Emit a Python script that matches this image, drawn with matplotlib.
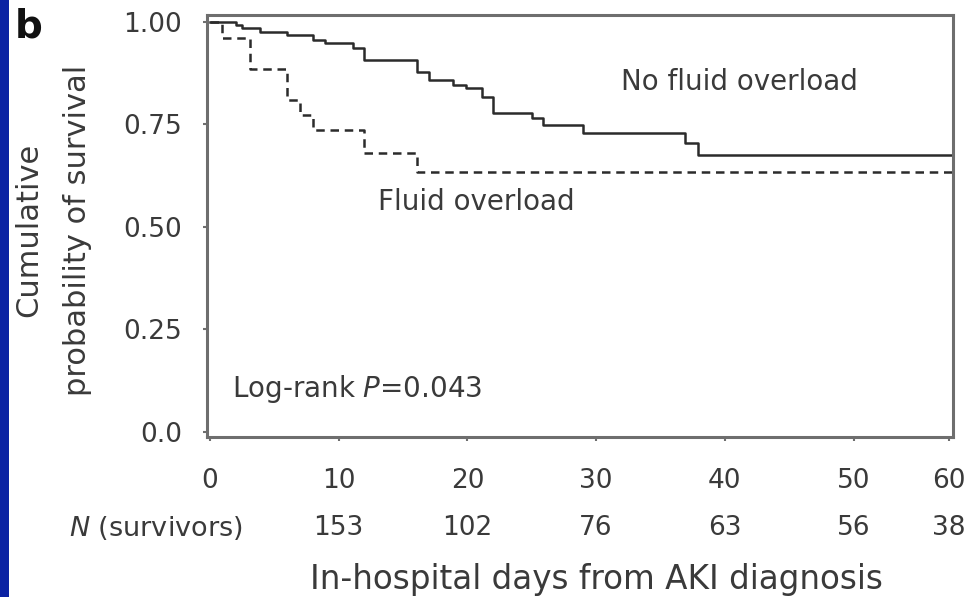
import numpy as np
import matplotlib
matplotlib.use("Agg")
from matplotlib import pyplot as plt
from matplotlib.patches import Rectangle
import matplotlib.transforms as mtransforms

plt.rcParams['font.family'] = ['DejaVu Sans']
plt.rcParams['mathtext.fontset'] = 'custom'
plt.rcParams['mathtext.rm'] = 'DejaVu Sans'
plt.rcParams['mathtext.it'] = 'DejaVu Sans:italic'

# Kaplan-Meier step data (days from AKI diagnosis, cumulative survival)
no_fo_days = [0, 2.0, 2.5, 3.9, 6.0, 8.0, 8.9, 11.1, 12.0, 16.1, 17.0, 18.9, 19.9,
              21.1, 22.0, 25.0, 25.9, 29.0, 36.9, 37.9, 60]
no_fo_surv = [1.0, 0.993, 0.985, 0.976, 0.968, 0.956, 0.948, 0.936, 0.907, 0.879,
              0.859, 0.846, 0.838, 0.818, 0.777, 0.765, 0.749, 0.729, 0.704, 0.676, 0.676]

fo_days = [0, 0.9, 3.1, 6.0, 7.0, 8.0, 12.0, 16.1, 60]
fo_surv = [1.0, 0.962, 0.885, 0.81, 0.773, 0.737, 0.68, 0.633, 0.633]

# numbers at risk
risk_days = [10, 20, 30, 40, 50, 60]
at_risk = [153, 102, 76, 63, 56, 38]

x_ticklabels = ['0', '10', '20', '30', '40', '50', '60']
y_ticks = [0.0, 0.25, 0.5, 0.75, 1.0]
y_ticklabels = ['0.0', '0.25', '0.50', '0.75', '1.00']

text_col = '#3a3a3a'
line_col = '#2b2b2b'
spine_col = '#6e6e6e'
x_end = 57.73   # right edge of the axes
x_last = 57.42  # where the "60" column is drawn, just inside the right spine

fig = plt.figure(figsize=(9.73, 5.97), dpi=100)
fig.patch.set_facecolor('white')
ax = fig.add_axes([207/973, 1 - 437/597, 746/973, 422/597])

ax.step(no_fo_days, no_fo_surv, where='post', color=line_col, lw=1.8)
dash_line, = ax.step(fo_days, fo_surv, where='post', color=line_col, lw=1.8)
dash_line.set_dashes([3.4, 2.3])

ax.set_xlim(-0.23, x_end)
ax.set_ylim(-0.0122, 1.017)

x_pos = [0, 10, 20, 30, 40, 50, x_last]
ax.set_xticks(x_pos)
ax.set_xticklabels(x_ticklabels)
ax.set_yticks(y_ticks)
ax.set_yticklabels(y_ticklabels)
ax.tick_params(axis='both', direction='out', length=3, width=1.5, color=spine_col,
               labelsize=19, labelcolor=text_col)
ax.tick_params(axis='x', pad=19)
ax.tick_params(axis='y', pad=15)
for s in ax.spines.values():
    s.set_color(spine_col)
    s.set_linewidth(2.2)

# number-at-risk row
risk_x = [x_pos[x_ticklabels.index(str(d))] for d in risk_days]
row_tr = mtransforms.blended_transform_factory(ax.transData, fig.transFigure)
for d, n in zip(risk_x, at_risk):
    ax.text(d, 1 - 528/597, str(n), transform=row_tr, ha='center', va='center',
            fontsize=19, color=text_col, clip_on=False)
fig.text(156/973, 1 - 528/597, r'$N$ (survivors)', ha='center', va='center',
         fontsize=19.5, color=text_col)

fig.text(596/973, 1 - 579/597, 'In-hospital days from AKI diagnosis',
         ha='center', va='center', fontsize=23.5, color=text_col)
fig.text(29/973, 1 - 230/597, 'Cumulative', rotation=90,
         ha='center', va='center', fontsize=22, color=text_col)
fig.text(78/973, 1 - 230/597, 'probability of survival', rotation=90,
         ha='center', va='center', fontsize=22, color=text_col)

ax.text(31.9, 0.854, 'No fluid overload', ha='left', va='center', fontsize=20, color=text_col)
ax.text(13.05, 0.561, 'Fluid overload', ha='left', va='center', fontsize=20, color=text_col)
ax.text(1.7, 0.105, r'Log-rank $P$=0.043', ha='left', va='center', fontsize=20, color=text_col)

fig.text(29/973, 1 - 26/597, 'b', ha='center', va='center', fontsize=28,
         fontweight='bold', color='#111111')

# blue slide border on the left
fig.patches.append(Rectangle((0, 0), 9/973, 1, transform=fig.transFigure,
                             facecolor='#0b22a3', edgecolor='none'))

fig.savefig('out.png', dpi=100)
